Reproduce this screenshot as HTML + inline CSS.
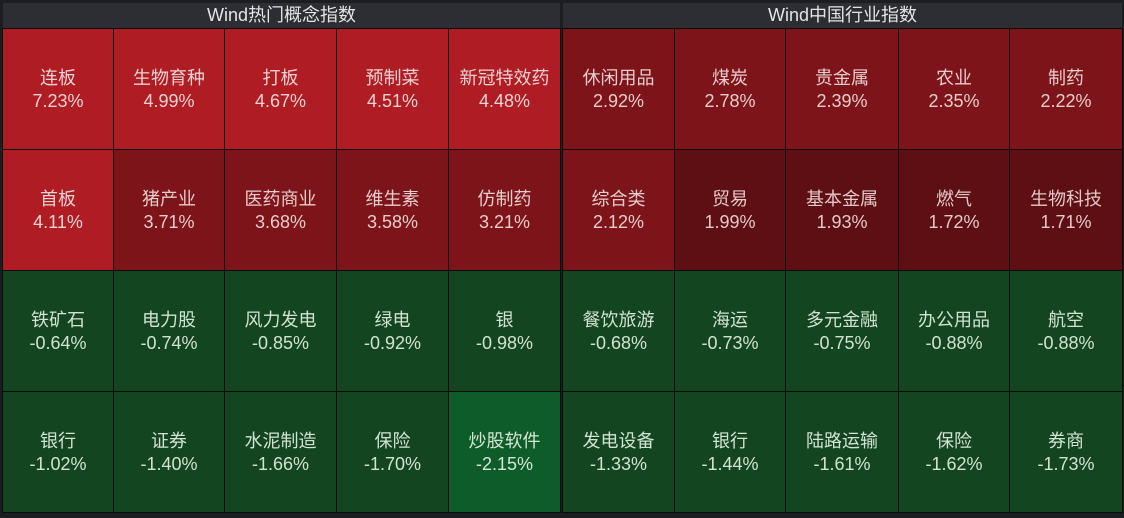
<!DOCTYPE html>
<html>
<head>
<meta charset="utf-8">
<style>
html,body{margin:0;padding:0;}
body{width:1124px;height:518px;background:#1b1e21;position:relative;overflow:hidden;
font-family:"Liberation Sans","Noto Sans CJK SC","WenQuanYi Zen Hei",sans-serif;}
.hdr{position:absolute;top:3px;height:25px;background:#2c2e33;color:#e4e4e4;font-size:18px;line-height:25px;text-align:center;}
.grid{position:absolute;top:28px;height:485px;background:#0b0b0b;}
.c{position:absolute;width:111px;height:120px;text-align:center;font-size:18px;line-height:23px;}
.c .t{position:absolute;left:0;right:0;top:38px;}
.a{left:3px;width:110px;}
.b{left:114px;width:110px;}
.d{left:225px;width:111px;}
.e{left:337px;width:111px;}
.f{left:449px;width:111px;}
.A{left:563px;width:111px;}
.B{left:675px;width:110px;}
.D{left:786px;width:112px;}
.E{left:899px;width:110px;}
.F{left:1010px;width:112px;}
.y1{top:29px;}.y2{top:150px;}.y3{top:271px;}.y4{top:392px;}
.r1{background:#b01c24;color:#ecd2d2;}
.r2{background:#7c141a;color:#e8cccc;}
.r3{background:#5e0f14;color:#e2c8c8;}
.g1{background:#124520;color:#d2e2d2;}
.g2{background:#0f5c2b;color:#d4e6d4;}
</style>
</head>
<body>
<div class="hdr" style="left:3px;width:557px;">Wind热门概念指数</div>
<div class="hdr" style="left:563px;width:559px;">Wind中国行业指数</div>

<div class="grid" style="left:2px;width:559px;"></div>
<div class="grid" style="left:562px;width:561px;"></div>

<!-- Left panel -->
<div class="c r1 a y1"><div class="t">连板<br>7.23%</div></div>
<div class="c r1 b y1"><div class="t">生物育种<br>4.99%</div></div>
<div class="c r1 d y1"><div class="t">打板<br>4.67%</div></div>
<div class="c r1 e y1"><div class="t">预制菜<br>4.51%</div></div>
<div class="c r1 f y1"><div class="t">新冠特效药<br>4.48%</div></div>

<div class="c r1 a y2"><div class="t">首板<br>4.11%</div></div>
<div class="c r2 b y2"><div class="t">猪产业<br>3.71%</div></div>
<div class="c r2 d y2"><div class="t">医药商业<br>3.68%</div></div>
<div class="c r2 e y2"><div class="t">维生素<br>3.58%</div></div>
<div class="c r2 f y2"><div class="t">仿制药<br>3.21%</div></div>

<div class="c g1 a y3"><div class="t">铁矿石<br>-0.64%</div></div>
<div class="c g1 b y3"><div class="t">电力股<br>-0.74%</div></div>
<div class="c g1 d y3"><div class="t">风力发电<br>-0.85%</div></div>
<div class="c g1 e y3"><div class="t">绿电<br>-0.92%</div></div>
<div class="c g1 f y3"><div class="t">银<br>-0.98%</div></div>

<div class="c g1 a y4"><div class="t">银行<br>-1.02%</div></div>
<div class="c g1 b y4"><div class="t">证券<br>-1.40%</div></div>
<div class="c g1 d y4"><div class="t">水泥制造<br>-1.66%</div></div>
<div class="c g1 e y4"><div class="t">保险<br>-1.70%</div></div>
<div class="c g2 f y4"><div class="t">炒股软件<br>-2.15%</div></div>

<!-- Right panel -->
<div class="c r2 A y1"><div class="t">休闲用品<br>2.92%</div></div>
<div class="c r2 B y1"><div class="t">煤炭<br>2.78%</div></div>
<div class="c r2 D y1"><div class="t">贵金属<br>2.39%</div></div>
<div class="c r2 E y1"><div class="t">农业<br>2.35%</div></div>
<div class="c r2 F y1"><div class="t">制药<br>2.22%</div></div>

<div class="c r2 A y2"><div class="t">综合类<br>2.12%</div></div>
<div class="c r3 B y2"><div class="t">贸易<br>1.99%</div></div>
<div class="c r3 D y2"><div class="t">基本金属<br>1.93%</div></div>
<div class="c r3 E y2"><div class="t">燃气<br>1.72%</div></div>
<div class="c r3 F y2"><div class="t">生物科技<br>1.71%</div></div>

<div class="c g1 A y3"><div class="t">餐饮旅游<br>-0.68%</div></div>
<div class="c g1 B y3"><div class="t">海运<br>-0.73%</div></div>
<div class="c g1 D y3"><div class="t">多元金融<br>-0.75%</div></div>
<div class="c g1 E y3"><div class="t">办公用品<br>-0.88%</div></div>
<div class="c g1 F y3"><div class="t">航空<br>-0.88%</div></div>

<div class="c g1 A y4"><div class="t">发电设备<br>-1.33%</div></div>
<div class="c g1 B y4"><div class="t">银行<br>-1.44%</div></div>
<div class="c g1 D y4"><div class="t">陆路运输<br>-1.61%</div></div>
<div class="c g1 E y4"><div class="t">保险<br>-1.62%</div></div>
<div class="c g1 F y4"><div class="t">券商<br>-1.73%</div></div>
</body>
</html>
